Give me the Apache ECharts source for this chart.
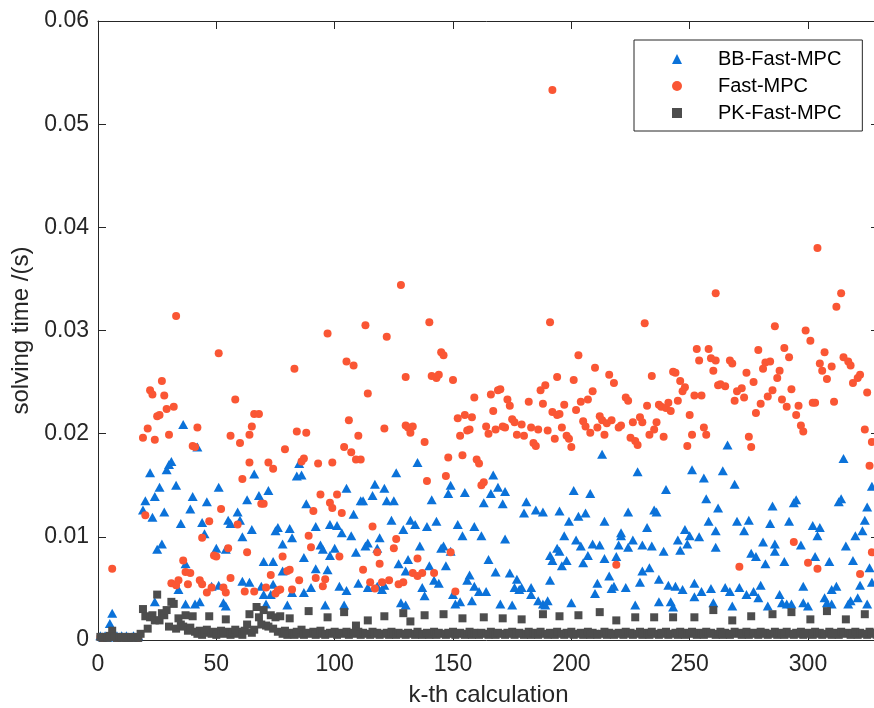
<!DOCTYPE html>
<html>
<head>
<meta charset="utf-8">
<script src="https://cdn.jsdelivr.net/npm/echarts@6/dist/echarts.min.js"></script>
<style>
html,body{margin:0;padding:0;background:#fff;}
#c{width:874px;height:708px;}
</style>
</head>
<body>
<div id="c"></div>
<script>
// ---- data ----
const seriesNames = ['BB-Fast-MPC', 'Fast-MPC', 'PK-Fast-MPC'];
const xTickValues = [0, 50, 100, 150, 200, 250, 300];
const yTickValues = [0, 0.01, 0.02, 0.03, 0.04, 0.05, 0.06];

// BB-Fast-MPC: [k, solving time (s)]
const bbData = [
[1,0.0004],[2,0.0003],[3,0.0004],[4,0.0003],[5,0.0016],[6,0.0026],[7,0.0003],[8,0.0004],[9,0.0003],[10,0.0004],
[11,0.0003],[12,0.0004],[13,0.0003],[14,0.0003],[15,0.0004],[16,0.0003],[17,0.0004],
[19,0.0126],[20,0.0135],[22,0.0162],[23,0.0119],[24,0.0139],[24,0.0037],[25,0.0088],[26,0.0148],[27,0.0093],[28,0.0124],
[29,0.0165],[30,0.0170],[31,0.0173],[33,0.0150],[34,0.0049],[35,0.0113],[36,0.0209],[37,0.0074],[37,0.0035],[39,0.0127],
[40,0.0139],[41,0.0035],[42,0.0187],[43,0.0037],[44,0.0114],[45,0.0103],[46,0.0134],[48,0.0052],[50,0.0089],[51,0.0148],
[51,0.0053],[53,0.0036],[54,0.0088],[54,0.0033],[55,0.0116],[56,0.0113],[59,0.0124],[60,0.0116],[61,0.0100],[61,0.0057],
[63,0.0136],[64,0.0056],[65,0.0107],[66,0.0161],[68,0.0140],[69,0.0052],[70,0.0076],[70,0.0044],[71,0.0035],[72,0.0145],
[73,0.0044],[74,0.0076],[74,0.0054],[75,0.0106],[76,0.0109],[78,0.0093],[78,0.0067],[80,0.0034],[81,0.0108],[82,0.0099],
[82,0.0046],[84,0.0159],[85,0.0171],[86,0.0160],[87,0.0080],[87,0.0046],[88,0.0132],[90,0.0051],[92,0.0110],[92,0.0069],
[94,0.0092],[95,0.0088],[96,0.0034],[97,0.0068],[98,0.0112],[98,0.0082],[100,0.0089],[101,0.0111],[102,0.0052],[103,0.0104],
[104,0.0034],[105,0.0147],[105,0.0048],[107,0.0101],[108,0.0122],[109,0.0085],[110,0.0055],[111,0.0135],[112,0.0135],[113,0.0091],
[114,0.0094],[114,0.0051],[116,0.0140],[117,0.0151],[118,0.0089],[118,0.0052],[119,0.0099],[120,0.0049],[121,0.0147],[121,0.0053],
[122,0.0135],[124,0.0116],[125,0.0135],[126,0.0162],[127,0.0074],[128,0.0036],[129,0.0107],[130,0.0034],[130,0.0067],[131,0.0078],
[132,0.0116],[134,0.0112],[135,0.0172],[136,0.0091],[137,0.0051],[138,0.0043],[139,0.0110],[140,0.0072],[141,0.0136],[142,0.0058],
[143,0.0115],[144,0.0055],[145,0.0089],[146,0.0091],[147,0.0072],[148,0.0142],[149,0.0150],[149,0.0086],[150,0.0044],[151,0.0035],
[152,0.0112],[153,0.0037],[154,0.0101],[155,0.0143],[156,0.0058],[157,0.0063],[158,0.0038],[159,0.0110],[159,0.0052],[161,0.0047],
[162,0.0101],[163,0.0133],[164,0.0047],[165,0.0078],[166,0.0142],[167,0.0160],[168,0.0066],[169,0.0148],[170,0.0035],[171,0.0132],
[172,0.0144],[172,0.0098],[174,0.0065],[175,0.0034],[176,0.0051],[177,0.0059],[178,0.0049],[179,0.0051],[180,0.0123],[181,0.0134],
[183,0.0051],[183,0.0044],[185,0.0126],[186,0.0038],[188,0.0124],[188,0.0035],[189,0.0034],[190,0.0038],[191,0.0082],[191,0.0058],
[192,0.0077],[194,0.0089],[195,0.0125],[195,0.0086],[196,0.0072],[197,0.0101],[198,0.0077],[199,0.0115],[200,0.0036],[201,0.0145],
[202,0.0097],[203,0.0120],[204,0.0091],[205,0.0075],[206,0.0123],[207,0.0082],[208,0.0142],[209,0.0093],[210,0.0045],[211,0.0055],
[212,0.0092],[213,0.0180],[214,0.0115],[214,0.0079],[216,0.0062],[217,0.0050],[218,0.0052],[219,0.0081],[220,0.0092],[221,0.0104],
[221,0.0101],[223,0.0051],[224,0.0124],[224,0.0090],[226,0.0097],[227,0.0034],[228,0.0163],[229,0.0056],[230,0.0092],[230,0.0067],
[232,0.0109],[233,0.0070],[234,0.0091],[235,0.0126],[236,0.0124],[237,0.0059],[237,0.0037],[239,0.0086],[240,0.0146],[241,0.0053],
[242,0.0037],[243,0.0032],[244,0.0052],[245,0.0097],[246,0.0087],[247,0.0049],[248,0.0107],[249,0.0093],[250,0.0101],[251,0.0165],
[252,0.0055],[252,0.0042],[254,0.0100],[255,0.0047],[256,0.0157],[257,0.0137],[258,0.0115],[259,0.0050],[260,0.0036],[261,0.0106],
[261,0.0090],[262,0.0128],[264,0.0164],[265,0.0051],[266,0.0189],[267,0.0047],[268,0.0033],[269,0.0151],[270,0.0115],[271,0.0051],
[273,0.0106],[274,0.0044],[275,0.0116],[276,0.0084],[277,0.0047],[278,0.0081],[279,0.0041],[280,0.0053],[281,0.0095],[282,0.0074],
[283,0.0033],[284,0.0113],[285,0.0130],[286,0.0093],[286,0.0086],[288,0.0044],[289,0.0036],[290,0.0076],[291,0.0035],[292,0.0115],
[293,0.0035],[294,0.0133],[295,0.0136],[297,0.0092],[298,0.0052],[298,0.0036],[300,0.0033],[302,0.0111],[303,0.0081],[304,0.0101],
[305,0.0109],[307,0.0041],[308,0.0036],[309,0.0076],[310,0.0049],[310,0.0035],[312,0.0052],[313,0.0134],[314,0.0137],[315,0.0176],
[316,0.0091],[317,0.0035],[318,0.0038],[319,0.0077],[320,0.0101],[321,0.0041],[322,0.0053],[323,0.0106],[324,0.0116],[325,0.0129],
[325,0.0035],[326,0.0070],[327,0.0056],[327,0.0149]
];

// Fast-MPC: [k, solving time (s)]
const fastData = [
[1,0.0003],[2,0.0002],[3,0.0003],[4,0.0003],[5,0.0004],[6,0.0069],[7,0.0003],[8,0.0002],[9,0.0003],[10,0.0003],
[11,0.0002],[12,0.0003],[13,0.0003],[14,0.0002],[15,0.0003],[16,0.0003],[17,0.0002],
[19,0.0196],[20,0.0121],[21,0.0205],[22,0.0242],[23,0.0238],[24,0.0194],[25,0.0217],[26,0.0218],[27,0.0251],[28,0.0237],
[29,0.0224],[30,0.0199],[31,0.0055],[32,0.0226],[33,0.0314],[33,0.0053],[34,0.0058],[36,0.0077],[37,0.0066],[38,0.0054],
[39,0.0065],[40,0.0188],[41,0.0187],[42,0.0206],[43,0.0058],[44,0.0099],[44,0.0054],[46,0.0046],[47,0.0115],[48,0.0051],
[49,0.0082],[50,0.0081],[51,0.0278],[52,0.0127],[53,0.0051],[54,0.0046],[55,0.0089],[56,0.0060],[56,0.0198],[58,0.0233],
[59,0.0112],[60,0.0191],[61,0.0156],[62,0.0047],[63,0.0085],[64,0.0172],[64,0.0199],[65,0.0207],[66,0.0219],[66,0.0047],
[68,0.0219],[69,0.0132],[70,0.0132],[71,0.0051],[72,0.0172],[73,0.0063],[74,0.0166],[75,0.0045],[76,0.0048],[77,0.0049],
[78,0.0081],[79,0.0185],[80,0.0067],[81,0.0068],[82,0.0049],[83,0.0263],[84,0.0202],[85,0.0058],[86,0.0173],[87,0.0176],
[88,0.0201],[89,0.0101],[90,0.0090],[91,0.0125],[92,0.0060],[93,0.0171],[94,0.0141],[95,0.0052],[96,0.0059],[97,0.0297],
[98,0.0133],[99,0.0128],[99,0.0172],[101,0.0141],[102,0.0081],[103,0.0123],[104,0.0187],[105,0.0270],[106,0.0213],[107,0.0182],
[108,0.0266],[109,0.0175],[110,0.0198],[111,0.0175],[112,0.0068],[113,0.0305],[114,0.0239],[115,0.0056],[116,0.0110],[117,0.0050],
[118,0.0085],[119,0.0074],[120,0.0056],[121,0.0205],[122,0.0294],[123,0.0058],[125,0.0089],[126,0.0098],[127,0.0054],[128,0.0344],
[129,0.0056],[130,0.0255],[130,0.0208],[131,0.0206],[132,0.0201],[133,0.0207],[133,0.0065],[135,0.0079],[135,0.0062],[137,0.0065],
[138,0.0192],[139,0.0154],[140,0.0308],[141,0.0256],[142,0.0065],[143,0.0254],[144,0.0257],[145,0.0279],[146,0.0276],[147,0.0159],
[148,0.0177],[149,0.0085],[150,0.0252],[151,0.0047],[152,0.0215],[153,0.0198],[154,0.0179],[155,0.0218],[156,0.0203],[157,0.0204],
[158,0.0216],[159,0.0235],[160,0.0175],[161,0.0171],[162,0.0150],[163,0.0153],[164,0.0207],[165,0.0200],[166,0.0238],[167,0.0222],
[168,0.0204],[169,0.0242],[170,0.0243],[171,0.0207],[172,0.0206],[173,0.0233],[174,0.0227],[175,0.0214],[176,0.0211],[177,0.0199],
[179,0.0209],[180,0.0198],[182,0.0231],[183,0.0206],[184,0.0191],[185,0.0188],[186,0.0204],[187,0.0242],[188,0.0229],[189,0.0247],
[190,0.0203],[191,0.0308],[192,0.0533],[192,0.0221],[193,0.0195],[194,0.0255],[194,0.0218],[195,0.0219],[196,0.0206],[197,0.0228],
[198,0.0198],[199,0.0195],[200,0.0187],[201,0.0252],[202,0.0223],[203,0.0276],[204,0.0231],[205,0.0212],[206,0.0207],[207,0.0233],
[208,0.0201],[209,0.0241],[210,0.0264],[211,0.0206],[212,0.0217],[213,0.0213],[214,0.0199],[215,0.0210],[216,0.0257],[217,0.0213],
[218,0.0249],[219,0.0073],[220,0.0206],[221,0.0208],[223,0.0235],[224,0.0232],[225,0.0196],[226,0.0211],[227,0.0193],[228,0.0189],
[229,0.0216],[230,0.0211],[231,0.0307],[232,0.0227],[233,0.0199],[234,0.0256],[235,0.0204],[236,0.0211],[237,0.0228],[238,0.0226],
[239,0.0197],[240,0.0225],[241,0.0230],[242,0.0222],[243,0.0260],[244,0.0259],[245,0.0232],[246,0.0251],[247,0.0241],[248,0.0245],
[249,0.0188],[250,0.0218],[251,0.0199],[252,0.0237],[253,0.0282],[254,0.0271],[255,0.0237],[256,0.0206],[257,0.0199],[258,0.0282],
[259,0.0273],[260,0.0261],[261,0.0336],[261,0.0271],[262,0.0247],[263,0.0248],[265,0.0246],[267,0.0271],[268,0.0268],[269,0.0232],
[270,0.0241],[271,0.0071],[272,0.0244],[273,0.0235],[274,0.0259],[275,0.0197],[276,0.0187],[277,0.0250],[278,0.0220],[279,0.0281],
[280,0.0229],[281,0.0263],[282,0.0269],[283,0.0236],[284,0.0270],[285,0.0242],[286,0.0304],[287,0.0254],[288,0.0261],[289,0.0233],
[290,0.0283],[291,0.0226],[292,0.0274],[293,0.0243],[294,0.0095],[295,0.0218],[296,0.0227],[297,0.0208],[298,0.0202],[299,0.0300],
[300,0.0075],[301,0.0290],[302,0.0230],[303,0.0230],[304,0.0069],[304,0.0380],[305,0.0268],[306,0.0261],[307,0.0279],[308,0.0253],
[310,0.0265],[311,0.0231],[312,0.0323],[314,0.0336],[315,0.0274],[317,0.0270],[318,0.0266],[319,0.0249],[321,0.0254],[322,0.0257],
[322,0.0064],[324,0.0204],[325,0.0240],[326,0.0169],[327,0.0192],[327,0.0085]
];

// PK-Fast-MPC: solving time (s) for k = 1, 2, 3, ...
const pkValues = [
0.0003,0.0002,0.0003,0.0002,0.0004,0.0009,0.0003,0.0002,0.0003,0.0002,
0.0003,0.0002,0.0002,0.0003,0.0002,0.0003,0.0002,0.0006,0.0030,0.0023,
0.0011,0.0022,0.0024,0.0019,0.0044,0.0019,0.0026,0.0024,0.0029,0.0013,
0.0037,0.0035,0.0011,0.0021,0.0015,0.0013,0.0024,0.0009,0.0012,0.0023,
0.0008,0.0006,0.0009,0.0005,0.0007,0.0010,0.0023,0.0006,0.0008,0.0005,
0.0007,0.0009,0.0006,0.0020,0.0008,0.0005,0.0007,0.0010,0.0006,0.0008,
0.0005,0.0009,0.0015,0.0025,0.0007,0.0010,0.0032,0.0022,0.0015,0.0029,
0.0014,0.0013,0.0024,0.0011,0.0022,0.0008,0.0023,0.0006,0.0009,0.0005,
0.0021,0.0007,0.0005,0.0008,0.0006,0.0010,0.0005,0.0007,0.0028,0.0006,
0.0008,0.0005,0.0007,0.0009,0.0006,0.0005,0.0022,0.0007,0.0006,0.0008,
0.0005,0.0007,0.0006,0.0027,0.0008,0.0005,0.0007,0.0006,0.0014,0.0008,
0.0005,0.0007,0.0006,0.0019,0.0005,0.0008,0.0006,0.0007,0.0005,0.0006,
0.0023,0.0007,0.0005,0.0008,0.0006,0.0005,0.0007,0.0006,0.0026,0.0005,
0.0007,0.0018,0.0006,0.0005,0.0008,0.0006,0.0005,0.0024,0.0007,0.0005,
0.0006,0.0008,0.0005,0.0007,0.0006,0.0025,0.0005,0.0007,0.0006,0.0008,
0.0005,0.0006,0.0007,0.0021,0.0005,0.0006,0.0008,0.0005,0.0007,0.0006,
0.0005,0.0007,0.0022,0.0006,0.0005,0.0008,0.0006,0.0005,0.0007,0.0006,
0.0021,0.0005,0.0007,0.0006,0.0008,0.0005,0.0006,0.0007,0.0020,0.0005,
0.0006,0.0008,0.0005,0.0007,0.0006,0.0005,0.0008,0.0025,0.0006,0.0005,
0.0007,0.0006,0.0005,0.0008,0.0023,0.0006,0.0005,0.0007,0.0006,0.0008,
0.0005,0.0006,0.0024,0.0007,0.0005,0.0006,0.0008,0.0005,0.0007,0.0006,
0.0005,0.0027,0.0006,0.0008,0.0005,0.0007,0.0006,0.0005,0.0019,0.0007,
0.0006,0.0005,0.0008,0.0006,0.0007,0.0005,0.0022,0.0006,0.0008,0.0005,
0.0007,0.0006,0.0005,0.0008,0.0022,0.0006,0.0005,0.0007,0.0006,0.0008,
0.0005,0.0006,0.0022,0.0007,0.0005,0.0008,0.0006,0.0005,0.0007,0.0006,
0.0008,0.0022,0.0005,0.0007,0.0006,0.0005,0.0008,0.0006,0.0007,0.0029,
0.0005,0.0006,0.0008,0.0005,0.0007,0.0006,0.0005,0.0019,0.0008,0.0006,
0.0007,0.0005,0.0006,0.0008,0.0005,0.0023,0.0007,0.0006,0.0005,0.0008,
0.0006,0.0007,0.0005,0.0006,0.0025,0.0008,0.0005,0.0007,0.0006,0.0005,
0.0008,0.0006,0.0027,0.0005,0.0007,0.0006,0.0008,0.0005,0.0006,0.0007,
0.0020,0.0005,0.0008,0.0006,0.0007,0.0005,0.0006,0.0028,0.0008,0.0005,
0.0007,0.0006,0.0005,0.0008,0.0006,0.0020,0.0007,0.0005,0.0006,0.0008,
0.0005,0.0007,0.0006,0.0025,0.0005,0.0008,0.0006,0.0007,0.0005,0.0006
];

// ---- chart ----
const FONT = '"Liberation Sans", Arial, Helvetica, sans-serif';
const AX = '#262626';
const pkData = pkValues.map((v, i) => [i + 1, v]);

const chart = echarts.init(document.getElementById('c'), null, {renderer: 'canvas'});

const axisCommon = {
  axisLine: {show: true, onZero: false, lineStyle: {color: AX, width: 1}},
  axisTick: {show: true, inside: true, length: 8, lineStyle: {color: AX, width: 1}},
  splitLine: {show: false}
};

chart.setOption({
  animation: false,
  backgroundColor: '#ffffff',
  textStyle: {fontFamily: FONT},
  grid: {left: 98, right: -5, top: 21, bottom: 68, containLabel: false, outerBoundsMode: 'none'},
  xAxis: [
    Object.assign({
      type: 'value', position: 'bottom', min: 0, max: 330, interval: 50,
      name: 'k-th calculation', nameLocation: 'middle', nameGap: 43,
      nameTextStyle: {fontSize: 24, color: AX, fontFamily: FONT},
      axisLabel: {fontSize: 23, color: AX, margin: 13, fontFamily: FONT,
        formatter: v => (xTickValues.indexOf(v) >= 0 ? String(v) : '')}
    }, axisCommon),
    Object.assign({
      type: 'value', position: 'top', min: 0, max: 330, interval: 50,
      axisLabel: {show: false}
    }, axisCommon)
  ],
  yAxis: [
    Object.assign({
      type: 'value', position: 'left', min: 0, max: 0.06, interval: 0.01,
      name: 'solving time /(s)', nameLocation: 'middle', nameGap: 64, nameRotate: 90,
      nameTextStyle: {fontSize: 24, color: AX, fontFamily: FONT},
      axisLabel: {fontSize: 23, color: AX, margin: 9, fontFamily: FONT,
        formatter: v => {
          const t = yTickValues.find(y => Math.abs(y - v) < 1e-9);
          return t === undefined ? '' : (t === 0 ? '0' : t.toFixed(2));
        }}
    }, axisCommon),
    Object.assign({
      type: 'value', position: 'right', min: 0, max: 0.06, interval: 0.01,
      axisLabel: {show: false}
    }, axisCommon)
  ],
  legend: {
    orient: 'vertical', left: 634, top: 40,
    padding: [9, 21, 8, 38], itemGap: 7, itemWidth: 10, itemHeight: 10,
    borderColor: AX, borderWidth: 1, backgroundColor: '#ffffff',
    selectedMode: false,
    textStyle: {fontSize: 20, color: '#000000', fontFamily: FONT, lineHeight: 20, padding: [0, 0, 0, 31]},
    data: [
      {name: seriesNames[0], icon: 'triangle'},
      {name: seriesNames[1], icon: 'circle'},
      {name: seriesNames[2], icon: 'rect'}
    ]
  },
  series: [
    {name: seriesNames[0], type: 'scatter', xAxisIndex: 0, yAxisIndex: 0,
     symbol: 'triangle', symbolSize: [10, 9], itemStyle: {color: '#0b72d9', opacity: 1},
     emphasis: {disabled: true}, silent: true, data: bbData},
    {name: seriesNames[1], type: 'scatter', xAxisIndex: 0, yAxisIndex: 0,
     symbol: 'circle', symbolSize: 8, itemStyle: {color: '#fa5634', opacity: 1},
     emphasis: {disabled: true}, silent: true, data: fastData},
    {name: seriesNames[2], type: 'scatter', xAxisIndex: 0, yAxisIndex: 0,
     symbol: 'rect', symbolSize: 8, itemStyle: {color: '#4d4d4d', opacity: 1},
     emphasis: {disabled: true}, silent: true, data: pkData}
  ]
});
</script>
</body>
</html>
